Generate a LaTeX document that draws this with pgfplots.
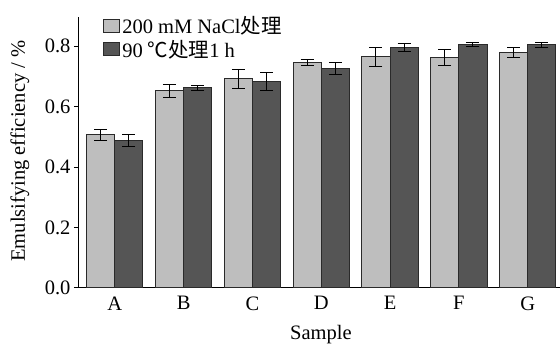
\documentclass[border=0pt]{standalone}
\usepackage{pgfplots}
\pgfplotsset{compat=1.18}
\usepackage{pgfplotstable}
\usepackage{fontspec}
\setmainfont{Liberation Serif}
\newfontfamily\cjk{Noto Sans CJK SC}
\definecolor{lightbar}{HTML}{BEBEBE}
\definecolor{darkbar}{HTML}{555555}
\definecolor{edge}{HTML}{2A2A2A}
\newcommand\fs{\fontsize{20.5}{24}\selectfont}
\pgfplotstableread{
x y err
0 0.507 0.018
1 0.652 0.021
2 0.691 0.031
3 0.746 0.011
4 0.764 0.032
5 0.761 0.026
6 0.779 0.016
}\tlight
\pgfplotstableread{
x y err
0 0.488 0.021
1 0.662 0.009
2 0.684 0.030
3 0.726 0.021
4 0.796 0.014
5 0.805 0.007
6 0.804 0.008
}\tdark
\begin{document}
\begin{tikzpicture}
\begin{axis}[
  name=ax,
  scale only axis,
  width=481pt, height=271pt,
  xmin=-0.52, xmax=6.47,
  ymin=0, ymax=0.896,
  axis x line*=bottom, axis y line*=left,
  axis line style={line width=1pt, black},
  xtick={0,...,6},
  xticklabels={A,B,C,D,E,F,G},
  x tick style={draw=none},
  ytick={0,0.2,0.4,0.6,0.8},
  y tick style={line width=1pt, black},
  tick align=outside,
  major tick length=5pt,
  yticklabel style={/pgf/number format/fixed,/pgf/number format/fixed zerofill,/pgf/number format/precision=1},
  /pgf/number format/assume math mode=true,
  tick label style={font=\fs},
  label style={font=\fs},
  xlabel={Sample},
  ylabel={Emulsifying efficiency / \%},
  xlabel style={at={(axis description cs:0.503,0)}, yshift=-47pt, anchor=center},
  ylabel style={at={(axis description cs:-0.1227,0.505)}, anchor=center},
  ybar=0pt,
  bar width=0.41,
  legend style={draw=none, fill=none, font=\fs, at={(0.05,1.01)}, anchor=north west,
    row sep=1pt, inner sep=0pt, /tikz/every even column/.style={column sep=2pt}},
  legend cell align=left,
  legend image code/.code={\draw[#1, line width=1pt] (0pt,-6.5pt) rectangle (16pt,6.5pt);},
  error bars/y dir=both, error bars/y explicit,
  error bars/error mark options={black, line width=1pt, mark size=6.5pt, rotate=90},
  error bars/error bar style={black, line width=1pt},
]
\addplot[fill=lightbar, draw=edge, line width=1pt, bar shift=-0.205] table[x=x, y=y, y error=err] {\tlight};
\addplot[fill=darkbar, draw=edge, line width=1pt, bar shift=0.205] table[x=x, y=y, y error=err] {\tdark};
\legend{200 mM NaCl{\cjk 处理}, 90 {\cjk ℃处理}1 h}
\end{axis}
\pgfresetboundingbox
\path (-79pt,-59pt) rectangle (481pt,288pt);
\end{tikzpicture}
\end{document}
